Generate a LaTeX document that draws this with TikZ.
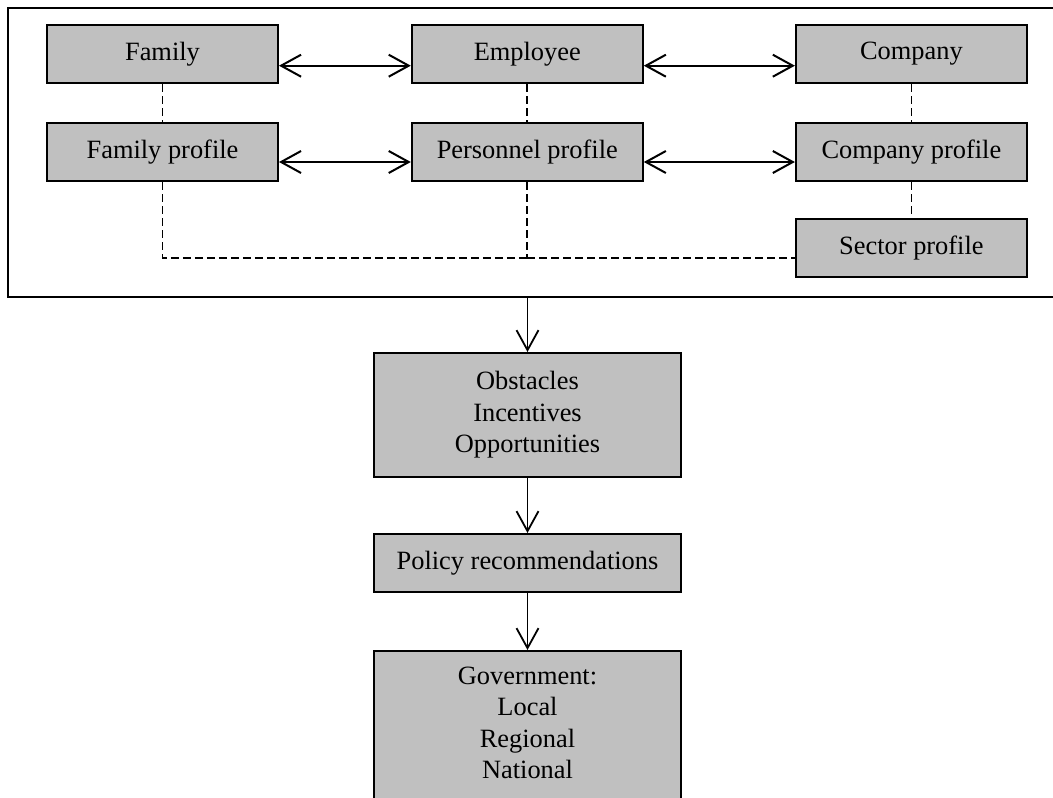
\documentclass[tikz,border=0pt]{standalone}
\usepackage{fontspec}
\setmainfont{Liberation Serif}
\usetikzlibrary{arrows.meta}

\begin{document}
\begin{tikzpicture}[x=1pt,y=-1pt,
  font=\fontsize{26.4}{31.5}\selectfont,
  box/.style={draw=black, line width=2pt, fill=boxgray, inner sep=0pt,
              minimum width=231pt, minimum height=58pt, align=center},
  flowbox/.style={box, minimum width=307pt},
  link/.style={line width=1.8pt, dash pattern=on 8pt off 4pt},
  barb/.tip={Straight Barb[length=20pt,width=22pt]},
  both/.style={line width=2pt, {barb}-{barb}},
  down/.style={line width=1.8pt, -{barb}}]
\definecolor{boxgray}{HTML}{C0C0C0}

\useasboundingbox (0,0) rectangle (1053,798);
\clip (0,0) rectangle (1053,798);

% enclosing frame of the profile block (runs past the right edge)
\node[draw=black, line width=2.2pt, inner sep=0pt,
      minimum width=1062pt, minimum height=288.7pt] (frame) at (539,152.35) {};

% upper block
\node[box] (fam)   at (162.5,54)  {Family};
\node[box] (emp)   at (527.3,54)  {Employee};
\node[box] (comp)  at (911.4,54)  {Company};
\node[box] (famp)  at (162.5,152) {Family profile};
\node[box] (perp)  at (527.3,152) {Personnel profile};
\node[box] (compp) at (911.4,152) {Company profile};
\node[box] (sect)  at (911.4,248) {Sector profile};

% two-way links
\draw[both] ([yshift=-11.7pt]fam.east)  -- ([yshift=-11.7pt]emp.west);
\draw[both] ([yshift=-11.7pt]emp.east)  -- ([yshift=-11.7pt]comp.west);
\draw[both] ([yshift=-10pt]famp.east)   -- ([yshift=-10pt]perp.west);
\draw[both] ([yshift=-10pt]perp.east)   -- ([yshift=-10pt]compp.west);

% dashed associations
\coordinate (bus) at (527.3,257.7);
\draw[link] (fam.south)   -- (famp.north);
\draw[link] (emp.south)   -- (perp.north);
\draw[link] (comp.south)  -- (compp.north);
\draw[link] (compp.south) -- (sect.north);
\draw[link] (famp.south) |- (bus);
\draw[link] (perp.south) -- (bus);
\draw[link] (bus) -- (bus -| sect.west);

% lower flow
\node[flowbox, minimum height=124pt] (obst) at (527.5,415)
  {Obstacles\\Incentives\\Opportunities};
\node[flowbox] (policy) at (527.5,563) {Policy recommendations};
\node[flowbox, minimum height=180pt, anchor=north] (gov) at (527.5,650) {};
\node[anchor=north, inner sep=0pt, align=center] (govtext) at (527.5,666.5)
  {Government:\\Local\\Regional\\National};

\draw[down] (frame.south -| obst.north) -- (obst.north);
\draw[down] (obst.south) -- (policy.north);
\draw[down] (policy.south) -- (gov.north);
\end{tikzpicture}
\end{document}
